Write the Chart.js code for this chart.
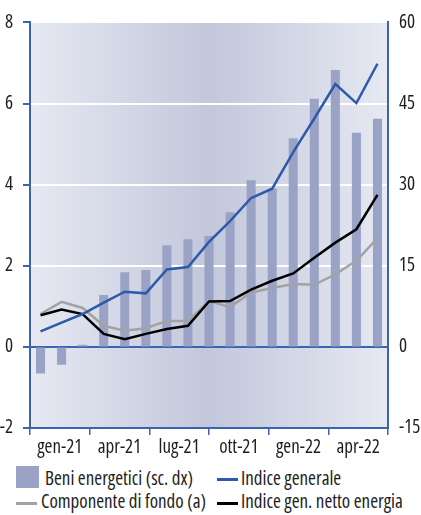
<!DOCTYPE html>
<html>
<head>
<meta charset="utf-8">
<script src="https://cdn.jsdelivr.net/npm/chart.js@4"></script>
<style>
  body { margin: 0; background: #fff; }
  #wrap { position: relative; width: 421px; height: 515px; font-family: "Open Sans", sans-serif; font-stretch: condensed; color: #1e1e1e; }
  #chart { position: absolute; left: 0; top: 0; }
  .leg { position: absolute; font-size: 19px; line-height: 22px; white-space: nowrap; }
  .box { position: absolute; width: 23px; height: 22px; background: #9aa3c6; }
  .ln { position: absolute; width: 21px; height: 3px; }
</style>
</head>
<body>
<div id="wrap">
  <canvas id="chart" width="421" height="460"></canvas>
  <div class="box" style="left:16px; top:466px;"></div>
  <div class="leg" style="left:45px; top:467px;">Beni energetici (sc. dx)</div>
  <div class="ln" style="left:217px; top:478px; background:#2d5aaa;"></div>
  <div class="leg" style="left:241px; top:467px;">Indice generale</div>
  <div class="ln" style="left:16px; top:502px; background:#a3a3a3;"></div>
  <div class="leg" style="left:41px; top:490px;">Componente di fondo (a)</div>
  <div class="ln" style="left:217px; top:502px; background:#000;"></div>
  <div class="leg" style="left:241px; top:490px;">Indice gen. netto energia</div>
</div>
<script>
// Months (gen-21 .. mag-22)
const months = ['gen-21', 'feb-21', 'mar-21', 'apr-21', 'mag-21', 'giu-21', 'lug-21', 'ago-21', 'set-21',
    'ott-21', 'nov-21', 'dic-21', 'gen-22', 'feb-22', 'mar-22', 'apr-22', 'mag-22'];
const quarterLabels = ['gen-21', 'apr-21', 'lug-21', 'ott-21', 'gen-22', 'apr-22'];

// Series values
const beniEnergetici = [-4.9, -3.3, 0.4, 9.6, 13.8, 14.2, 18.8, 19.9, 20.5, 24.9, 30.8, 29.3, 38.6, 45.9, 51.2, 39.6, 42.2];
const indiceGenerale = [0.38, 0.6, 0.81, 1.09, 1.36, 1.32, 1.91, 1.97, 2.59, 3.1, 3.67, 3.9, 4.8, 5.63, 6.48, 6.01, 6.98];
const componenteFondo = [0.81, 1.11, 0.96, 0.52, 0.40, 0.46, 0.64, 0.64, 1.13, 0.98, 1.34, 1.45, 1.55, 1.53, 1.79, 2.12, 2.68];
const nettoEnergia = [0.78, 0.92, 0.81, 0.32, 0.19, 0.32, 0.44, 0.52, 1.12, 1.13, 1.41, 1.63, 1.81, 2.2, 2.57, 2.9, 3.75];

const axisBlue = '#3a63b0';
// "normal condensed" goes into the canvas font string -> Open Sans at narrow width
const tickFont = { family: '"Open Sans", sans-serif', size: 19, weight: 'normal condensed' };

// Background gradient behind the plot
const bgPlugin = {
    id: 'bg',
    beforeDraw(chart) {
        const { ctx, chartArea: a } = chart;
        const g = ctx.createLinearGradient(a.left, 0, a.right, 0);
        g.addColorStop(0, '#e6e9f2');
        g.addColorStop(0.5, '#c2c7db');
        g.addColorStop(1, '#e6e9f2');
        ctx.save();
        ctx.fillStyle = g;
        ctx.fillRect(a.left, a.top, a.right - a.left, a.bottom - a.top);
        ctx.restore();
    }
};

const lineDs = (label, data, color, order) => ({
    type: 'line', label, data, borderColor: color, backgroundColor: color,
    borderWidth: 2.5, pointRadius: 0, tension: 0, yAxisID: 'y', xAxisID: 'x', order
});

new Chart(document.getElementById('chart'), {
    type: 'bar',
    data: {
        labels: months,
        datasets: [
            lineDs('Indice generale', indiceGenerale, '#2d5aaa', 0),
            lineDs('Indice gen. netto energia', nettoEnergia, '#000000', 1),
            lineDs('Componente di fondo (a)', componenteFondo, '#a3a3a3', 2),
            {
                type: 'bar', label: 'Beni energetici (sc. dx)', data: beniEnergetici,
                backgroundColor: '#9aa3c6', yAxisID: 'y1', xAxisID: 'x',
                barPercentage: 0.43, categoryPercentage: 1, order: 3
            }
        ]
    },
    options: {
        responsive: false,
        animation: false,
        layout: { padding: { top: 21, left: 0, right: 0, bottom: 0 } },
        plugins: { legend: { display: false }, tooltip: { enabled: false } },
        scales: {
            x: { display: false, offset: true },
            q: {
                type: 'category', position: 'bottom', labels: quarterLabels, offset: true,
                grid: { offset: true, drawOnChartArea: false, color: axisBlue, tickLength: 7, lineWidth: 1.5 },
                border: { color: axisBlue, width: 2 },
                ticks: { font: tickFont, color: '#1e1e1e', padding: 1, maxRotation: 0, autoSkip: false },
                afterFit: s => { s.height = 32; }
            },
            y: {
                position: 'left', min: -2, max: 8,
                ticks: { stepSize: 2, font: tickFont, color: '#1e1e1e', padding: 10 },
                grid: {
                    color: c => c.tick && c.tick.value === 0 ? axisBlue : '#ffffff',
                    lineWidth: 2,
                    tickColor: axisBlue, tickLength: 7
                },
                border: { color: axisBlue, width: 2 },
                afterFit: s => { s.width = 30; }
            },
            y1: {
                position: 'right', min: -15, max: 60,
                ticks: { stepSize: 15, font: tickFont, color: '#1e1e1e', padding: 11 },
                grid: { drawOnChartArea: false, drawTicks: false },
                border: { color: axisBlue, width: 2 },
                afterFit: s => { s.width = 33; }
            }
        }
    },
    plugins: [bgPlugin]
});
</script>
</body>
</html>
